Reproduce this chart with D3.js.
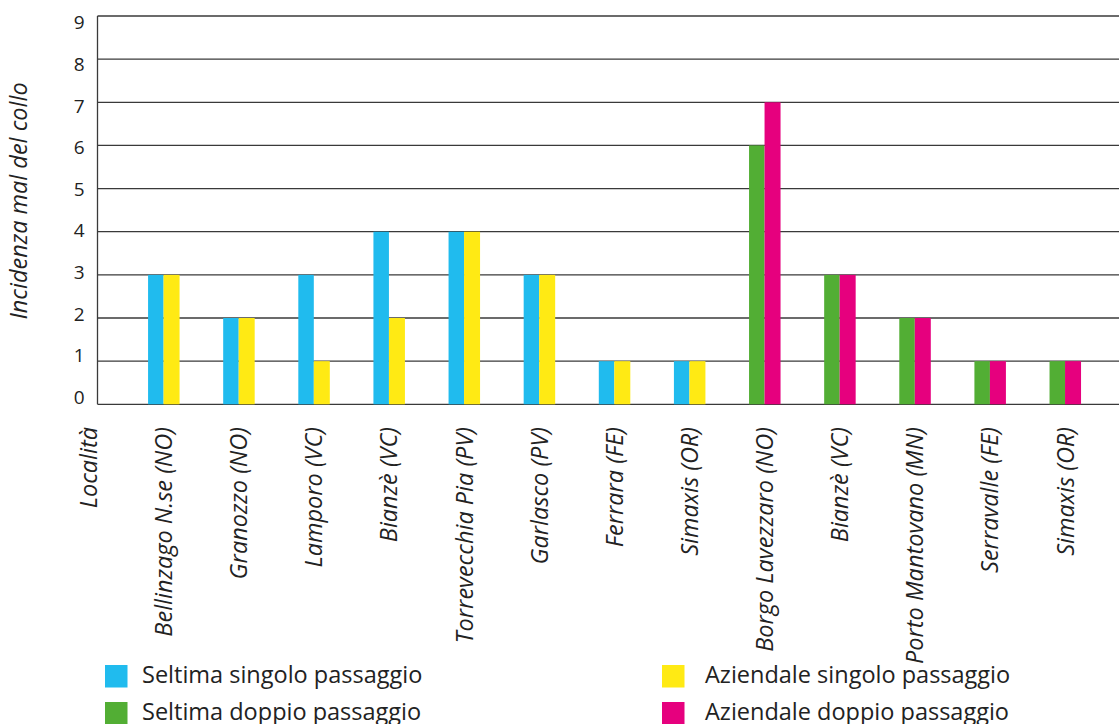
<!DOCTYPE html>
<html><head><meta charset="utf-8">
<script src="https://cdn.jsdelivr.net/npm/d3@7"></script>
<style>
body{margin:0;background:#fff;}
text{font-family:"Open Sans",sans-serif;fill:#222;}
</style></head>
<body><svg id="c" width="1119" height="724"></svg>
<script>
const categories = ["Bellinzago N.se (NO)","Granozzo (NO)","Lamporo (VC)","Bianzè (VC)","Torrevecchia Pia (PV)","Garlasco (PV)","Ferrara (FE)","Simaxis (OR)","Borgo Lavezzaro (NO)","Bianzè (VC)","Porto Mantovano (MN)","Serravalle (FE)","Simaxis (OR)"];
const seltimaSingolo   = [3,2,3,4,4,3,1,1,null,null,null,null,null];
const aziendaleSingolo = [3,2,1,2,4,3,1,1,null,null,null,null,null];
const seltimaDoppio    = [null,null,null,null,null,null,null,null,6,3,2,1,1];
const aziendaleDoppio  = [null,null,null,null,null,null,null,null,7,3,2,1,1];
const yTicks = [0,1,2,3,4,5,6,7,8,9];
const seriesNames = ["Seltima singolo passaggio","Aziendale singolo passaggio","Seltima doppio passaggio","Aziendale doppio passaggio"];
const colors = {"Seltima singolo passaggio":"#20bbee","Aziendale singolo passaggio":"#ffea14","Seltima doppio passaggio":"#52ae34","Aziendale doppio passaggio":"#e6007e"};

(function(){
const svg = d3.select("#c");
const pLeft = 97.5, pRight = 1119, pTop = 16, pBottom = 404.3;
const idx = categories.map((d,i)=>i);
const x = d3.scaleBand().domain(idx).range([126, 1102.6]).paddingInner(0).paddingOuter(0);
const y = d3.scaleLinear().domain([0,9]).range([pBottom, pTop]);
// tick labels in the reference sit on a slightly tighter spacing than the gridlines
const yLab = d3.scaleLinear().domain([0,9]).range([397, 22.6]);
const bw = 15.5;
const fs = "23.5px";

// gridlines
svg.append("g").selectAll("line").data(yTicks).join("line")
  .attr("x1", pLeft).attr("x2", pRight)
  .attr("y1", d=>y(d)).attr("y2", d=>y(d))
  .attr("stroke", "#3a3a3a").attr("stroke-width", 1.3);

// y axis line
svg.append("line").attr("x1",pLeft).attr("x2",pLeft).attr("y1",pTop).attr("y2",pBottom)
  .attr("stroke","#3a3a3a").attr("stroke-width",1.3);
// tick labels
svg.append("g").selectAll("text").data(yTicks).join("text")
  .attr("x", 84.5).attr("y", d=>yLab(d)).attr("dy","0.36em")
  .attr("text-anchor","end").style("font-size","19px").text(d=>d);

// bars
function pair(a, b, ca, cb){
  const g = svg.append("g");
  g.selectAll("rect.a").data(idx.filter(i=>a[i]!=null)).join("rect")
    .attr("x", i=>x(i)+x.bandwidth()/2-bw).attr("width", bw)
    .attr("y", i=>y(a[i])).attr("height", i=>y(0)-y(a[i])).attr("fill", ca);
  g.selectAll("rect.b").data(idx.filter(i=>b[i]!=null)).join("rect")
    .attr("x", i=>x(i)+x.bandwidth()/2).attr("width", bw+0.5)
    .attr("y", i=>y(b[i])).attr("height", i=>y(0)-y(b[i])).attr("fill", cb);
}
pair(seltimaSingolo, aziendaleSingolo, colors[seriesNames[0]], colors[seriesNames[1]]);
pair(seltimaDoppio, aziendaleDoppio, colors[seriesNames[2]], colors[seriesNames[3]]);

// x labels
svg.append("g").selectAll("text").data(idx).join("text")
  .attr("transform", i=>`translate(${x(i)+x.bandwidth()/2},427) rotate(-90)`)
  .attr("text-anchor","end").attr("dy","0.36em")
  .style("font-style","italic").style("font-size",fs)
  .text(i=>categories[i]);
svg.append("text").attr("transform","translate(89,427) rotate(-90)")
  .attr("text-anchor","end").attr("dy","0.36em")
  .style("font-style","italic").style("font-size",fs).text("Località");

// y title
svg.append("text").attr("transform","translate(19,201) rotate(-90)")
  .attr("text-anchor","middle").attr("dy","0.36em")
  .style("font-style","italic").style("font-size",fs).text("Incidenza mal del collo");

// legend
const legPos = [[105,665],[662,665],[105,702],[662,702]];
seriesNames.forEach((s,k)=>{
  const [lx,ly] = legPos[k];
  svg.append("rect").attr("x",lx).attr("y",ly).attr("width",22.5).attr("height",22.5).attr("fill",colors[s]);
  svg.append("text").attr("x", k%2===0? 142 : 705).attr("y", ly+18)
    .style("font-size",fs).text(s);
});
})();
</script></body></html>
